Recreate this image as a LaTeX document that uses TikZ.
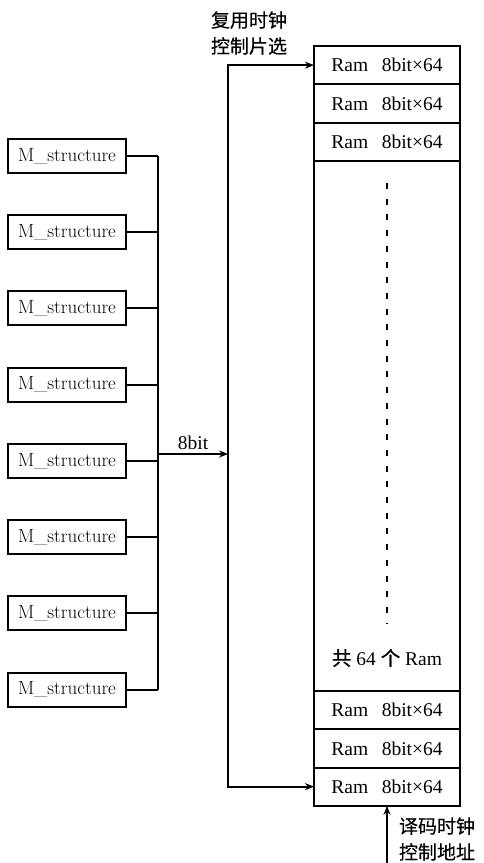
\documentclass[tikz,border=0pt]{standalone}
\usepackage{fontspec}
\newfontfamily\cjk[FakeBold=0.4]{Noto Sans CJK SC}
\newfontfamily\tms{Liberation Serif}
\usetikzlibrary{arrows.meta}
\begin{document}
\begin{tikzpicture}[x=1pt,y=-1pt,
  line width=2pt, outer sep=0pt,
  mbox/.style={draw, minimum width=118pt, minimum height=34pt, inner sep=0pt, font=\fontsize{19}{21}\selectfont},
  rambox/.style={draw, minimum width=146pt, minimum height=38.3pt, inner sep=0pt, font=\tms\fontsize{19.5}{22}\selectfont},
  arr/.style={-{Stealth[length=9pt,width=7pt]}},
  cn/.style={font=\cjk\fontsize{19}{26}\selectfont, inner sep=0pt, align=left}
]
\useasboundingbox (0,0) rectangle (483,863);
% M_structure boxes
\foreach \i/\y in {1/156,2/232.2,3/308.4,4/384.6,5/460.9,6/537.1,7/613.3,8/689.5}{
  \node[mbox] (m\i) at (67,\y) {M\_structure};
  \coordinate (b\i) at (158,\y);
  \draw (m\i.east) -- (b\i);
}
\draw (b1) -- (b8);
% RAM column
\node[rambox, anchor=north west] (r1) at (314,46) {Ram\hspace{0.7em}8bit×64};
\node[rambox, anchor=north] (r2) at (r1.south) {Ram\hspace{0.7em}8bit×64};
\node[rambox, anchor=north] (r3) at (r2.south) {Ram\hspace{0.7em}8bit×64};
\node[draw, minimum width=146pt, minimum height=530pt, inner sep=0pt, anchor=north] (big) at (r3.south) {};
\node[rambox, anchor=north] (r62) at (big.south) {Ram\hspace{0.7em}8bit×64};
\node[rambox, anchor=north] (r63) at (r62.south) {Ram\hspace{0.7em}8bit×64};
\node[rambox, anchor=north] (r64) at (r63.south) {Ram\hspace{0.7em}8bit×64};
\node[font=\tms\fontsize{19.5}{22}\selectfont, inner sep=0pt] (tot) at (387,658) {{\cjk 共} 64 {\cjk 个} Ram};
\coordinate (d1) at (387,183);
\coordinate (d2) at (387,623);
\draw[line width=2pt, dash pattern=on 6pt off 9.7pt] (d1) -- (d2);
% bus to selector line
\coordinate (bm) at (158,454);
\coordinate (jn) at (228,454);
\draw[arr] (bm) -- (jn) node[midway, above=4pt, font=\tms\fontsize{19.5}{22}\selectfont, inner sep=0pt] {8bit};
\draw[arr] (jn) |- (r1.west);
\draw[arr] (jn) |- (r64.west);
% labels
\node[cn, anchor=west] (l1) at (211,33) {复用时钟\\控制片选};
\coordinate (cb) at (387,863);
\draw[arr] (cb) -- (r64.south -| cb);
\node[cn, anchor=west] (l2) at (399,839) {译码时钟\\控制地址};
\end{tikzpicture}
\end{document}
